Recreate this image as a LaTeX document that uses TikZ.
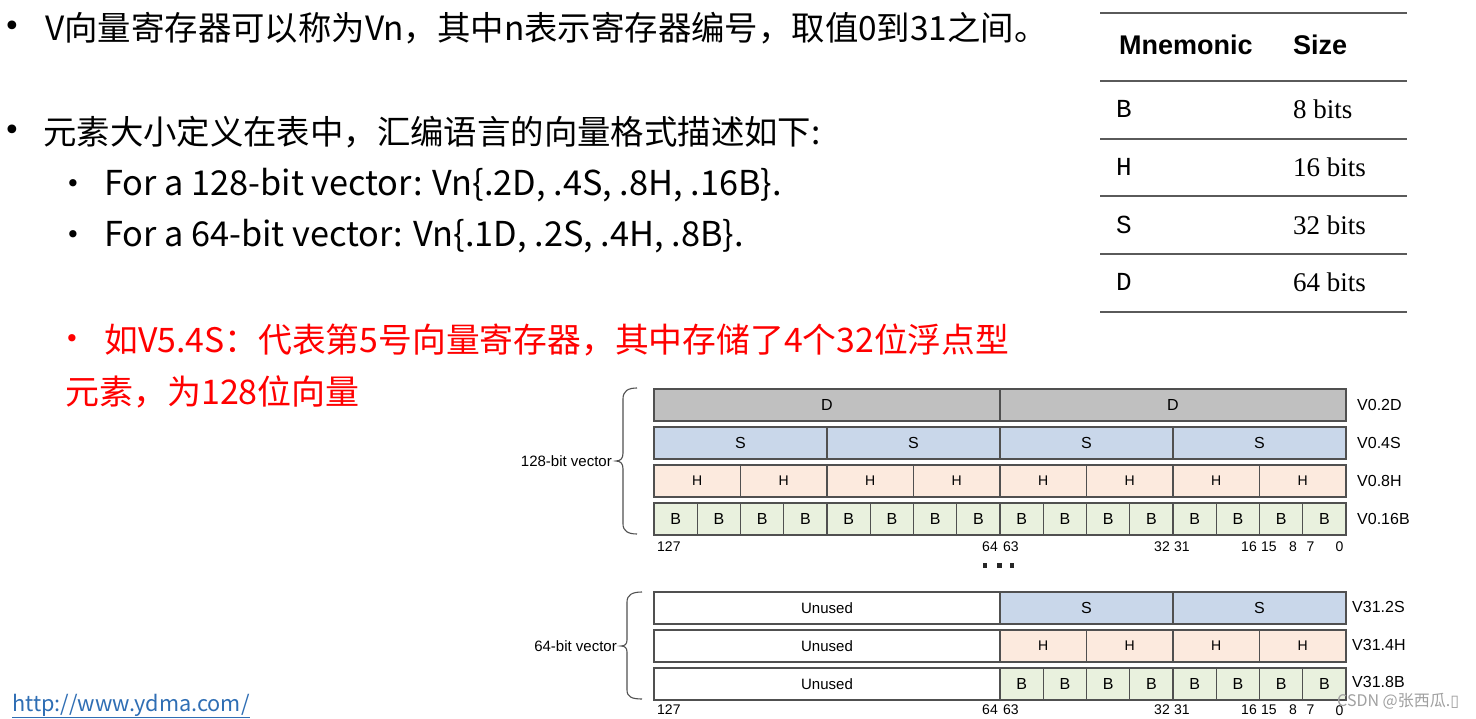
\documentclass[tikz,border=0pt]{standalone}
\usepackage{fontspec}
\setmainfont{Noto Sans CJK SC}
\newfontfamily\arialf{Liberation Sans}
\newfontfamily\serff{Liberation Serif}
\newfontfamily\monof{Liberation Mono}
\newfontfamily\dejaf{DejaVu Sans}
\definecolor{cD}{RGB}{192,192,192}
\definecolor{cS}{RGB}{201,215,234}
\definecolor{cH}{RGB}{252,234,222}
\definecolor{cB}{RGB}{233,241,222}
\definecolor{edge}{RGB}{80,80,80}
\definecolor{rule}{RGB}{90,90,90}
\definecolor{linkblue}{RGB}{47,110,180}
\definecolor{wm}{RGB}{160,160,160}
\tikzset{
  txt/.style={inner sep=0pt, anchor=west, font=\fontsize{33.4}{33.4}\selectfont},
  txtl/.style={inner sep=0pt, anchor=west, font=\fontsize{34.3}{34.3}\selectfont},
  bul/.style={inner sep=0pt, font=\dejaf\fontsize{30}{30}\selectfont},
  sbul/.style={inner sep=0pt, font=\dejaf\fontsize{25}{25}\selectfont},
  regcell/.style={draw=edge, line width=1.3pt, minimum height=32pt, inner sep=0pt, font=\arialf\fontsize{16}{16}\selectfont},
  hcell/.style={regcell, font=\arialf\fontsize{14}{14}\selectfont},
  rlab/.style={inner sep=0pt, anchor=west, font=\arialf\fontsize{16}{16}\selectfont},
  bitlab/.style={inner sep=0pt, font=\arialf\fontsize{14}{14}\selectfont},
  tabhead/.style={inner sep=0pt, anchor=west, font=\arialf\bfseries\fontsize{27}{27}\selectfont},
  tabmono/.style={inner sep=0pt, anchor=west, font=\monof\fontsize{26}{26}\selectfont},
  tabser/.style={inner sep=0pt, anchor=west, font=\serff\fontsize{27}{27}\selectfont},
  bracepath/.style={draw=edge, line width=1.1pt},
}
\begin{document}
\begin{tikzpicture}[x=1pt,y=-1pt]
\path[use as bounding box, fill=white] (0,0) rectangle (1476,719);

% ---- main text ----
\node[bul] (b1) at (12,29) {•};
\node[txt] (t1) at (45,28) {V向量寄存器可以称为Vn，其中n表示寄存器编号，取值0到31之间。};
\node[bul] (b2) at (12,133) {•};
\node[txt] (t2) at (43,132) {元素大小定义在表中，汇编语言的向量格式描述如下:};
\node[sbul] (b3) at (73,186) {•};
\node[txtl] (t3) at (104,185) {For a 128-bit vector: Vn\{.2D, .4S, .8H, .16B\}.};
\node[sbul] (b4) at (73,237) {•};
\node[txtl] (t4) at (104,236) {For a 64-bit vector: Vn\{.1D, .2S, .4H, .8B\}.};
\node[sbul, text=red] (b5) at (72,341) {•};
\node[txt, text=red, font=\fontsize{33.8}{33.8}\selectfont] (t5) at (104,340) {如V5.4S：代表第5号向量寄存器，其中存储了4个32位浮点型};
\node[txt, text=red, font=\fontsize{34}{34}\selectfont] (t6) at (65,392) {元素，为128位向量};

% ---- table ----
\foreach \yy in {13,81,139,196,254,312}
  \draw[rule, line width=1.6pt] (1100,\yy) -- (1407,\yy);
\node[tabhead] (hm) at (1119,45) {Mnemonic};
\node[tabhead] (hs) at (1293,45) {Size};
\node[tabmono] (mB) at (1116,109) {B};
\node[tabser] (sB) at (1293,109) {8 bits};
\node[tabmono] (mH) at (1116,167) {H};
\node[tabser] (sH) at (1293,167) {16 bits};
\node[tabmono] (mS) at (1116,225) {S};
\node[tabser] (sS) at (1293,225) {32 bits};
\node[tabmono] (mD) at (1116,282) {D};
\node[tabser] (sD) at (1293,282) {64 bits};

% ---- 128-bit registers ----
\foreach \i in {0,1}
  \node[regcell, fill=cD, minimum width=346pt] (d\i) at ({654+346*\i+173},405) {D};
\foreach \i in {0,...,3}
  \node[regcell, fill=cS, minimum width=173pt] (s\i) at ({654+173*\i+86.5},443) {S};
\foreach \i in {0,...,7}
  \node[hcell, fill=cH, minimum width=86.5pt] (h\i) at ({654+86.5*\i+43.25},481) {H};
\foreach \i in {0,...,15}
  \node[regcell, fill=cB, minimum width=43.25pt] (bb\i) at ({654+43.25*\i+21.625},519) {B};

\node[rlab] (l1) at (1357,405) {V0.2D};
\node[rlab] (l2) at (1357,443) {V0.4S};
\node[rlab] (l3) at (1357,481) {V0.8H};
\node[rlab] (l4) at (1357,519) {V0.16B};

\node[bitlab, anchor=west] (u127) at (657,547) {127};
\node[bitlab, anchor=east] (u64) at (998,547) {64};
\node[bitlab, anchor=west] (u63) at (1003,547) {63};
\node[bitlab, anchor=east] (u32) at (1170,547) {32};
\node[bitlab, anchor=west] (u31) at (1174,547) {31};
\node[bitlab, anchor=east] (u16) at (1257,547) {16};
\node[bitlab, anchor=west] (u15) at (1261,547) {15};
\node[bitlab] (u8) at (1293,547) {8};
\node[bitlab] (u7) at (1310.5,547) {7};
\node[bitlab] (u0) at (1339.5,547) {0};

\draw[bracepath] (637,388) .. controls (628,388) and (623,391) .. (623,399) -- (623,453)
  .. controls (623,458) and (621,461) .. (616,461)
  .. controls (621,461) and (623,464) .. (623,469) -- (623,524)
  .. controls (623,531) and (628,534) .. (637,534);
\node[inner sep=0pt, anchor=east, font=\arialf\fontsize{15}{15}\selectfont] (v128) at (612,461) {128-bit vector};

% dots
\foreach \xx in {985,999.5,1012}
  \fill[black!85] (\xx-2.3,563) rectangle (\xx+2.3,567.6);

% ---- 64-bit registers ----
\foreach \j/\yy in {0/608,1/646,2/684}
  \node[regcell, fill=white, minimum width=346pt, font=\arialf\fontsize{15}{15}\selectfont] (un\j) at (827,\yy) {Unused};
\foreach \i in {0,1}
  \node[regcell, fill=cS, minimum width=173pt] (ls\i) at ({1000+173*\i+86.5},608) {S};
\foreach \i in {0,...,3}
  \node[hcell, fill=cH, minimum width=86.5pt] (lh\i) at ({1000+86.5*\i+43.25},646) {H};
\foreach \i in {0,...,7}
  \node[regcell, fill=cB, minimum width=43.25pt] (lb\i) at ({1000+43.25*\i+21.625},684) {B};

\node[rlab] (l5) at (1352,607) {V31.2S};
\node[rlab] (l6) at (1352,645) {V31.4H};
\node[rlab] (l7) at (1352,682) {V31.8B};

\node[bitlab, anchor=west] (w127) at (657,710) {127};
\node[bitlab, anchor=east] (w64) at (998,710) {64};
\node[bitlab, anchor=west] (w63) at (1003,710) {63};
\node[bitlab, anchor=east] (w32) at (1170,710) {32};
\node[bitlab, anchor=west] (w31) at (1174,710) {31};
\node[bitlab, anchor=east] (w16) at (1257,710) {16};
\node[bitlab, anchor=west] (w15) at (1261,710) {15};
\node[bitlab] (w8) at (1293,710) {8};
\node[bitlab] (w7) at (1310.5,710) {7};
\node[bitlab] (w0) at (1339.5,711) {0};

\draw[bracepath] (642,592) .. controls (632,592) and (627,595) .. (627,602) -- (627,640)
  .. controls (627,644) and (625,646) .. (621,646)
  .. controls (625,646) and (627,648) .. (627,652) -- (627,690)
  .. controls (627,697) and (632,699) .. (642,699);
\node[inner sep=0pt, anchor=east, font=\arialf\fontsize{15}{15}\selectfont] (v64) at (617,646) {64-bit vector};

% ---- link and watermark ----
\node[inner sep=0pt, anchor=west, text=linkblue, font=\fontsize{21.7}{21.7}\selectfont] (link) at (12,706) {\underline{http://www.ydma.com/}};
\node[inner sep=0pt, anchor=west, text=wm, font=\fontsize{16}{16}\selectfont] (wmk) at (1337,701.5) {CSDN @张西瓜.{\dejaf ▯}};
\end{tikzpicture}
\end{document}
